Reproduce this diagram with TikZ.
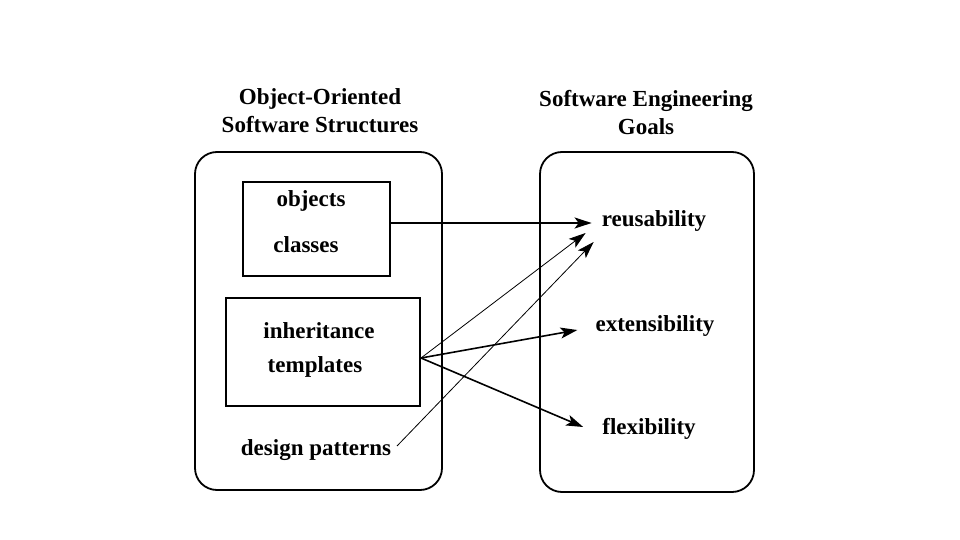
\documentclass[tikz,border=0pt]{standalone}
\usepackage{fontspec}
\setmainfont{Liberation Serif}
\usetikzlibrary{arrows.meta}
\tikzset{
  lbl/.style={font=\fontsize{23}{28}\selectfont\bfseries,inner sep=0pt},
  grp/.style={draw,line width=1.8pt,rounded corners=22pt,inner sep=0pt},
  blk/.style={draw,line width=1.8pt,inner sep=0pt},
  goal/.style={-{Stealth[length=17pt,width=11pt,inset=4pt]},line width=1.6pt},
  hint/.style={-{Stealth[length=17pt,width=11pt,inset=4pt]},line width=0.8pt}
}
\begin{document}
\begin{tikzpicture}[x=1pt,y=-1pt]
      \useasboundingbox (0,0) rectangle (960,540);
      % the two groups
      \node[lbl,align=center] (t1) at (320,111) {Object-Oriented\\Software Structures};
      \node[lbl,align=center] (t2) at (646,113) {Software Engineering\\Goals};
      \node[grp,minimum width=247pt,minimum height=338pt] (oo) at (318.5,321) {};
      \node[grp,minimum width=214pt,minimum height=340pt] (se) at (647,322) {};
      \node[blk,minimum width=147pt,minimum height=94pt] (b1) at (316.5,229) {};
      \node[blk,minimum width=194pt,minimum height=108pt] (b2) at (323,352) {};

      \node[lbl] (obj) at (311,201) {objects};
      \node[lbl] (cls) at (306,245) {classes};
      \node[lbl] (inh) at (319,331) {inheritance};
      \node[lbl] (tpl) at (315,367) {templates};
      \node[lbl] (dp) at (316,450) {design patterns};

      \node[lbl] (reu) at (654,221) {reusability};
      \node[lbl] (ext) at (655,326) {extensibility};
      \node[lbl] (flx) at (649,429) {flexibility};

      \coordinate (hub) at (421,358);
      \coordinate (dpe) at (397,446);

      \draw[goal] (b1.east |- 0,223) -- ([xshift=-10pt]reu.west |- 0,223);
      \draw[hint] (hub) -- ([shift={(-16,12)}]reu.west);
      \draw[hint] (dpe) -- ([shift={(-8,21)}]reu.west);
      \draw[goal] (hub) -- ([shift={(-18,4)}]ext.west);
      \draw[goal] (hub) -- ([shift={(-19,-2)}]flx.west);
    \end{tikzpicture}
\end{document}
